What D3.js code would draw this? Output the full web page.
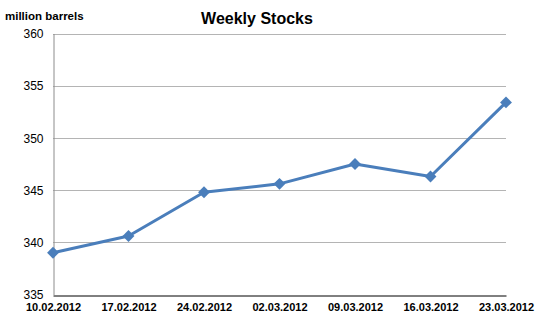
<!DOCTYPE html>
<html>
<head>
<meta charset="utf-8">
<script src="https://cdn.jsdelivr.net/npm/d3@7"></script>
<style>
  body { margin: 0; background: #fff; }
  text { font-family: "Liberation Sans", Arial, sans-serif; fill: #000; }
</style>
</head>
<body>
<div id="chart"></div>
<script>
// data
const dates = ["10.02.2012", "17.02.2012", "24.02.2012", "02.03.2012", "09.03.2012", "16.03.2012", "23.03.2012"]
const stocks = [339.0, 340.6, 344.8, 345.6, 347.5, 346.3, 353.4]
const yTicks = [335, 340, 345, 350, 355, 360]

const width = 540, height = 318
const plotLeft = 53, plotRight = 506, plotTop = 33.5, plotBottom = 294.5

const svg = d3.select('#chart').append('svg')
  .attr('width', width)
  .attr('height', height)

const x = d3.scalePoint().domain(dates).range([plotLeft, plotRight])
const y = d3.scaleLinear().domain([335, 360]).range([plotBottom, plotTop])

// gridlines
svg.append('g')
  .selectAll('line')
  .data(yTicks.slice(1))
  .enter()
  .append('line')
  .attr('x1', plotLeft).attr('x2', plotRight)
  .attr('y1', d => Math.round(y(d)) + 0.5).attr('y2', d => Math.round(y(d)) + 0.5)
  .attr('stroke', '#b4b4b4')

// y axis
const yAxis = svg.append('g')
  .attr('transform', `translate(${plotLeft + 0.5},0)`)
  .call(d3.axisLeft(y).tickValues(yTicks).tickSize(0).tickPadding(10))
yAxis.select('.domain').attr('stroke', '#8c8c8c')
yAxis.selectAll('text').attr('font-size', '12px').attr('dy', '0.35em')

// x axis
const xAxis = svg.append('g')
  .attr('transform', `translate(0,${Math.round(plotBottom) + 0.5})`)
  .call(d3.axisBottom(x).tickSize(0).tickPadding(8))
xAxis.select('.domain').attr('stroke', '#000')
xAxis.selectAll('text').attr('font-size', '11px').attr('font-weight', 'bold')

// line
const line = d3.line().x((d, i) => x(dates[i])).y(d => y(d))
svg.append('path')
  .datum(stocks)
  .attr('d', line)
  .attr('fill', 'none')
  .attr('stroke', '#4a7ebb')
  .attr('stroke-width', 3)
  .attr('stroke-linejoin', 'round')

// diamond markers
svg.append('g')
  .selectAll('path')
  .data(stocks)
  .enter()
  .append('path')
  .attr('d', d3.symbol().type(d3.symbolDiamond2).size(90))
  .attr('transform', (d, i) => `translate(${x(dates[i])},${y(d)})`)
  .attr('fill', '#4a7ebb')

// titles
svg.append('text')
  .attr('x', 257).attr('y', 24)
  .attr('text-anchor', 'middle')
  .attr('font-size', '16px')
  .attr('font-weight', 'bold')
  .text('Weekly Stocks')

svg.append('text')
  .attr('x', 5).attr('y', 20)
  .attr('font-size', '11.5px')
  .attr('font-weight', 'bold')
  .text('million barrels')
</script>
</body>
</html>
